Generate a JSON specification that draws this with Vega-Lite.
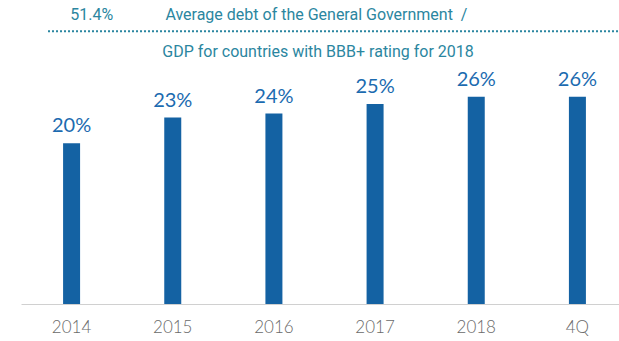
{
  "$schema": "https://vega.github.io/schema/vega-lite/v6.json",
  "autosize": {"type": "none"},
  "padding": {"left": 21, "top": 0, "right": 0, "bottom": 37},
  "width": 598,
  "height": 304,
  "background": "white",
  "config": {"view": {"stroke": null}, "font": "Lato"},
  "data": {"values": [
    {"period": "2014", "value": 0.201},
    {"period": "2015", "value": 0.233},
    {"period": "2016", "value": 0.238},
    {"period": "2017", "value": 0.25},
    {"period": "2018", "value": 0.259},
    {"period": "4Q", "value": 0.259}
  ]},
  "encoding": {
    "x": {
      "field": "period", "type": "nominal", "sort": null,
      "scale": {"type": "band", "domain": ["2014","2015","2016","2017","2018","4Q"], "range": [0, 607], "paddingInner": 0, "paddingOuter": 0},
      "axis": {"title": null, "ticks": false, "domainColor": "#d0d0d0", "domainWidth": 1, "labelAngle": 0, "labelFontSize": 17, "labelColor": "#6a6a6a", "labelFont": "Lato", "labelFontWeight": 300, "labelPadding": 15}
    },
    "y": {
      "field": "value", "type": "quantitative",
      "scale": {"domain": [0, 0.38], "nice": false, "zero": true},
      "axis": null
    }
  },
  "layer": [
    {"mark": {"type": "bar", "width": 17, "color": "#1462a3"}},
    {"mark": {"type": "text", "baseline": "middle", "dy": -17, "fontSize": 20, "color": "#1c6bb0", "font": "Lato"},
     "encoding": {"text": {"field": "value", "type": "quantitative", "format": ".0%"}}},
    {"data": {"values": [{"label": "51.4%", "period": "2014", "value": 0.3615}]},
     "mark": {"type": "text", "fontSize": 16, "letterSpacing": 0.3, "color": "#2b86a0", "font": "Roboto", "baseline": "middle"},
     "encoding": {"x": {"field": "period", "type": "nominal", "bandPosition": 0.7}, "text": {"field": "label"}}},
    {"data": {"values": [{"label": "Average debt of the General Government\u00a0\u00a0/", "period": "2016", "value": 0.3615}]},
     "mark": {"type": "text", "fontSize": 16, "letterSpacing": 0.3, "color": "#2b86a0", "font": "Roboto", "baseline": "middle"},
     "encoding": {"x": {"field": "period", "type": "nominal", "bandPosition": 0.92}, "text": {"field": "label"}}},
    {"data": {"values": [{"label": "GDP for countries with BBB+ rating for 2018", "period": "2016", "value": 0.3145}]},
     "mark": {"type": "text", "fontSize": 16, "letterSpacing": 0.3, "color": "#2b86a0", "font": "Roboto", "baseline": "middle"},
     "encoding": {"x": {"field": "period", "type": "nominal", "bandPosition": 0.936}, "text": {"field": "label"}}},
    {"data": {"values": [{"period": "2014", "end": "4Q", "value": 0.341}]},
     "mark": {"type": "rule", "color": "#2b86a0", "strokeWidth": 2, "strokeDash": [2, 2], "x2Offset": 66},
     "encoding": {"x": {"field": "period", "type": "nominal", "bandPosition": 0.267}, "x2": {"field": "end"}}}
  ]
}
